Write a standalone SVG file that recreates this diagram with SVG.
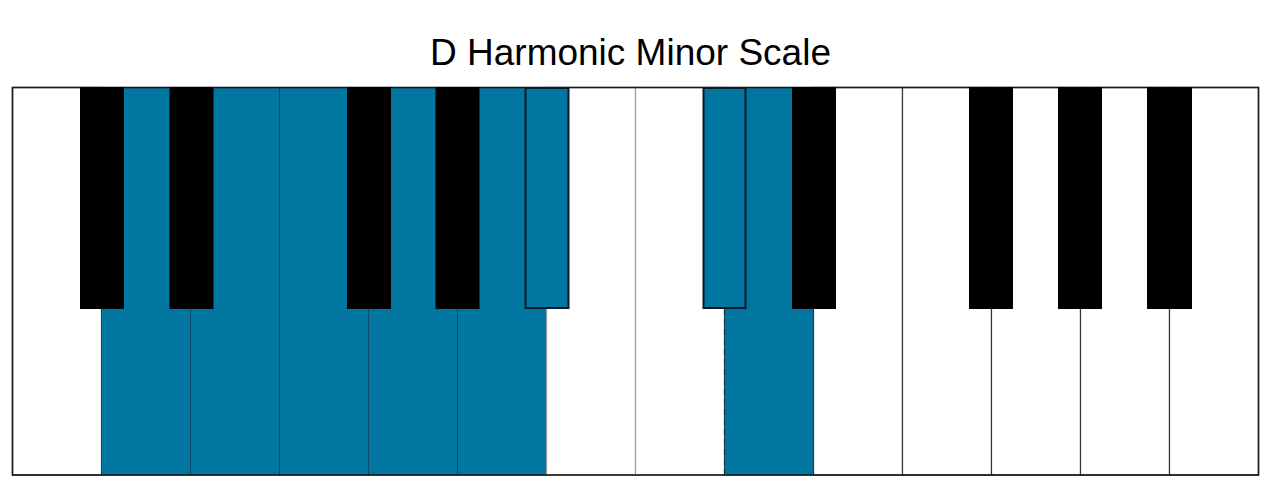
<svg xmlns="http://www.w3.org/2000/svg" width="1276" height="498" viewBox="0 0 1276 498">
<style>
.w{fill:#ffffff;stroke:#333333;stroke-width:1.2}
.wb{fill:#0076a0;stroke:#0a4a66;stroke-width:1}
.b{fill:#000000}
.bb{fill:#0076a0;stroke:#0b1a26;stroke-width:2}
.title{font-family:"Liberation Sans",Arial,sans-serif;font-size:37px;fill:#000000}
</style>
<rect x="0" y="0" width="1276" height="498" fill="#ffffff"/>
<text class="title" x="630.5" y="65" text-anchor="middle">D Harmonic Minor Scale</text>
<g id="white-keys">
<g id="w-C1"><rect class="w" x="12.5" y="87.5" width="89" height="387.5"/></g>
<g id="w-D1"><rect class="wb" x="101.5" y="87.5" width="89" height="387.5"/></g>
<g id="w-E1"><rect class="wb" x="190.5" y="87.5" width="89" height="387.5"/></g>
<g id="w-F1"><rect class="wb" x="279.5" y="87.5" width="89" height="387.5"/></g>
<g id="w-G1"><rect class="wb" x="368.5" y="87.5" width="89" height="387.5"/></g>
<g id="w-A1"><rect class="wb" x="457.5" y="87.5" width="89" height="387.5"/></g>
<g id="w-B1"><rect class="w" x="546.5" y="87.5" width="89" height="387.5" style="stroke:#999"/></g>
<g id="w-C2"><rect class="w" x="635.5" y="87.5" width="89" height="387.5" style="stroke:#999"/></g>
<g id="w-D2"><rect class="wb" x="724.5" y="87.5" width="89" height="387.5"/><line x1="724.5" y1="309" x2="724.5" y2="475" stroke="#1a2a35" stroke-width="1.2" stroke-dasharray="6,4"/></g>
<g id="w-E2"><rect class="w" x="813.5" y="87.5" width="89" height="387.5"/></g>
<g id="w-F2"><rect class="w" x="902.5" y="87.5" width="89" height="387.5"/></g>
<g id="w-G2"><rect class="w" x="991.5" y="87.5" width="89" height="387.5"/></g>
<g id="w-A2"><rect class="w" x="1080.5" y="87.5" width="89" height="387.5"/></g>
<g id="w-B2"><rect class="w" x="1169.5" y="87.5" width="89" height="387.5"/></g>
</g>
<rect x="12.5" y="87.5" width="1246" height="387.5" fill="none" stroke="#1a1a1a" stroke-width="1.6"/>
<g id="black-keys">
<g id="b-Cs1"><rect class="b" x="80" y="87" width="44" height="222"/></g>
<g id="b-Ds1"><rect class="b" x="169.5" y="87" width="44" height="222"/></g>
<g id="b-Fs1"><rect class="b" x="347" y="87" width="44" height="222"/></g>
<g id="b-Gs1"><rect class="b" x="435.5" y="87" width="44" height="222"/></g>
<g id="b-As1"><rect class="bb" x="525.5" y="88" width="43" height="220"/></g>
<g id="b-Cs2"><rect class="bb" x="703.5" y="88" width="42" height="220"/></g>
<g id="b-Ds2"><rect class="b" x="792" y="87" width="44" height="222"/></g>
<g id="b-Fs2"><rect class="b" x="969" y="87" width="44" height="222"/></g>
<g id="b-Gs2"><rect class="b" x="1058" y="87" width="44" height="222"/></g>
<g id="b-As2"><rect class="b" x="1147" y="87" width="45" height="222"/></g>
</g>
</svg>
